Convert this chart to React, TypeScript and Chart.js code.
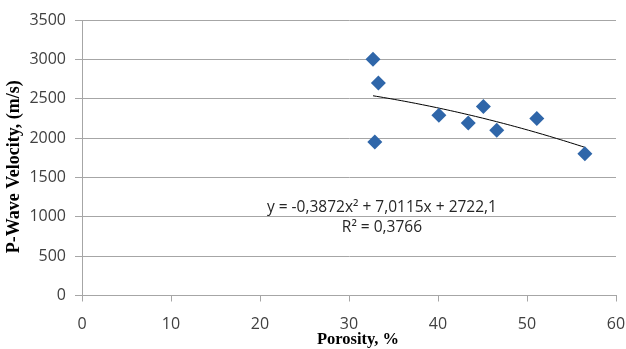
import React, { useEffect, useRef } from "react";
import { Chart, registerables } from "chart.js";

Chart.register(...registerables);

// ---- Data ----
const porosity = [32.7, 33.3, 32.9, 40.1, 43.4, 45.1, 46.6, 51.1, 56.5];
const velocity = [3000, 2700, 1950, 2290, 2190, 2400, 2100, 2250, 1800];
// Polynomial trendline printed on the chart: y = a x^2 + b x + c
const trendCoeffs = [-0.3872, 7.0115, 2722.1];
const equationText = "y = -0,3872x² + 7,0115x + 2722,1";
const r2Text = "R² = 0,3766";
const xAxisTitle = "Porosity, %";
const yAxisTitle = "P-Wave Velocity, (m/s)";
const xRange = [0, 60];
const yRange = [0, 3500];

const GRID = "#a6a6a6";
const TICK_FONT = { family: "'Open Sans', sans-serif", size: 16 };

export default function App() {
  const ref = useRef<HTMLCanvasElement | null>(null);

  useEffect(() => {
    const canvas = ref.current;
    if (!canvas) return;

    const xmin = Math.min(...porosity);
    const xmax = Math.max(...porosity);
    const trend: { x: number; y: number }[] = [];
    const n = 60;
    for (let i = 0; i <= n; i++) {
      const x = xmin + ((xmax - xmin) * i) / n;
      trend.push({ x, y: trendCoeffs[0] * x * x + trendCoeffs[1] * x + trendCoeffs[2] });
    }

    const annotation = {
      id: "trendLabelAndTitles",
      afterDatasetsDraw(chart: any) {
        const { ctx, scales, chartArea } = chart;
        const cx = scales.x.getPixelForValue(33.7);
        const y1 = scales.y.getPixelForValue(1113);
        const y2 = scales.y.getPixelForValue(859);
        ctx.save();
        ctx.font = "15.5px 'Open Sans', sans-serif";
        ctx.fillStyle = "#262626";
        ctx.textAlign = "center";
        ctx.textBaseline = "middle";
        ctx.fillText(equationText, cx, y1);
        ctx.fillText(r2Text, cx, y2);

        // axis titles
        ctx.fillStyle = "#000";
        ctx.font = "bold 16.5px 'Liberation Serif', serif";
        const midX = (chartArea.left + chartArea.right) / 2;
        ctx.fillText(xAxisTitle, midX + 9, chart.height - 9);
        ctx.translate(14, (chartArea.top + chartArea.bottom) / 2 + 9);
        ctx.rotate(-Math.PI / 2);
        ctx.font = "bold 18px 'Liberation Serif', serif";
        ctx.fillText(yAxisTitle, 0, 0);
        ctx.restore();
      },
    };

    const chart = new Chart(canvas, {
      type: "scatter",
      data: {
        datasets: [
          {
            label: "Vp",
            data: porosity.map((x, i) => ({ x, y: velocity[i] })),
            pointStyle: "rectRot",
            pointRadius: 7.5,
            backgroundColor: "#2f66a9",
            borderColor: "#2f66a9",
            borderWidth: 0,
          },
          {
            type: "line",
            label: "Trend",
            data: trend,
            borderColor: "#000000",
            borderWidth: 1,
            pointRadius: 0,
            fill: false,
            tension: 0,
          } as any,
        ],
      },
      plugins: [annotation],
      options: {
        responsive: false,
        animation: false,
        layout: { padding: { top: 20, right: 10, left: 0, bottom: 0 } },
        plugins: {
          legend: { display: false },
          tooltip: { enabled: false },
        },
        scales: {
          x: {
            type: "linear",
            min: xRange[0],
            max: xRange[1],
            afterFit: (s: any) => {
              s.height = 53.5;
              s.paddingRight = 0;
              s.paddingLeft = 0;
            },
            ticks: {
              stepSize: 10,
              font: TICK_FONT,
              color: "#404040",
              padding: 13,
              callback: (v: any) => String(v),
            },
            grid: {
              display: true,
              drawOnChartArea: false,
              drawTicks: true,
              tickLength: 6,
              color: GRID,
            },
            border: { display: true, color: GRID },
          },
          y: {
            type: "linear",
            min: yRange[0],
            max: yRange[1],
            afterFit: (s: any) => {
              s.width = 82;
              s.paddingTop = 0;
              s.paddingBottom = 0;
            },
            ticks: {
              stepSize: 500,
              font: TICK_FONT,
              color: "#404040",
              padding: 9,
              callback: (v: any) => String(v),
            },
            grid: {
              display: true,
              drawTicks: true,
              tickLength: 7,
              color: GRID,
            },
            border: { display: true, color: GRID },
          },
        },
      },
    });

    return () => chart.destroy();
  }, []);

  return (
    <div style={{ position: "fixed", left: 0, top: 0, width: 626, height: 349, background: "#fff" }}>
      <canvas ref={ref} width={626} height={349} style={{ width: 626, height: 349 }} />
    </div>
  );
}
